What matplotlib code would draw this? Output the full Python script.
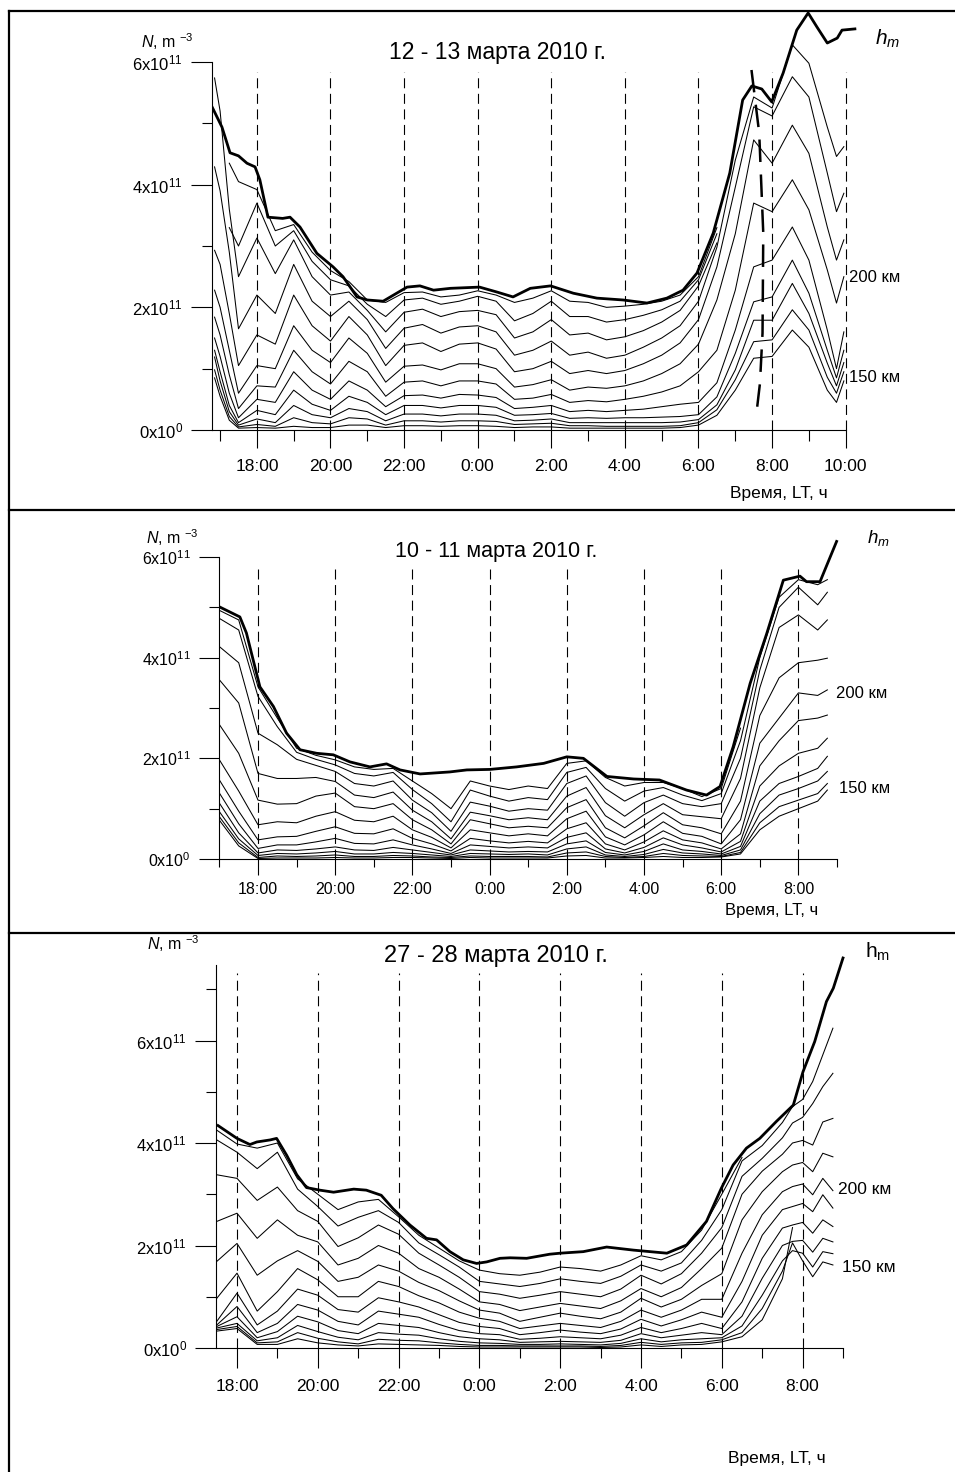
import numpy as np
import matplotlib
matplotlib.use('Agg')
import matplotlib.pyplot as plt
from matplotlib.lines import Line2D

plt.rcParams['font.family'] = ['Liberation Sans', 'DejaVu Sans']
plt.rcParams['mathtext.fontset'] = 'custom'
plt.rcParams['mathtext.rm'] = 'Liberation Sans'
plt.rcParams['mathtext.it'] = 'Liberation Sans:italic'
plt.rcParams['mathtext.bf'] = 'Liberation Sans:bold'

nan = np.nan

# N in units of 1e11 m^-3, time in hours LT (hours after midnight are +24)
# each row: one time step, columns = thin curves from top (high) to bottom

# ---- 12 - 13 march 2010
t1 = [16.85, 17.0, 17.25, 17.5, 18.0, 18.5, 19.0, 19.5, 20.0, 20.5, 21.0, 21.5,
      22.0, 22.5, 23.0, 23.5, 24.0, 24.5, 25.0, 25.5, 26.0, 26.5, 27.0, 27.5,
      28.0, 28.5, 29.0, 29.5, 30.0, 30.5, 31.0, 31.5, 32.0, 32.55, 33.0, 33.5,
      33.75, 33.95]
n1 = [
    [nan, nan, 5.74, 4.29, 2.93, 2.28, 1.84, 1.5, 1.3, 1.19, 0.98, 0.85],
    [nan, nan, 5.2, 3.9, 2.7, 2.0, 1.55, 1.2, 0.95, 0.8, 0.65, 0.55],
    [4.35, 3.3, 3.6, 2.9, 1.9, 1.3, 0.9, 0.6, 0.4, 0.3, 0.22, 0.16],
    [4.05, 3.0, 2.5, 1.65, 1.05, 0.6, 0.35, 0.2, 0.12, 0.08, 0.05, 0.03],
    [3.92, 3.7, 3.13, 2.2, 1.55, 1.05, 0.72, 0.5, 0.32, 0.18, 0.09, 0.04],
    [3.25, 3.0, 2.55, 1.9, 1.4, 1.0, 0.7, 0.45, 0.25, 0.12, 0.06, 0.03],
    [3.35, 3.25, 3.1, 2.7, 2.2, 1.7, 1.3, 0.95, 0.65, 0.4, 0.2, 0.06],
    [2.9, 2.75, 2.5, 2.1, 1.7, 1.3, 0.95, 0.65, 0.42, 0.25, 0.12, 0.04],
    [2.6, 2.45, 2.2, 1.85, 1.45, 1.1, 0.75, 0.5, 0.32, 0.2, 0.1, 0.04],
    [2.42, 2.35, 2.25, 2.1, 1.85, 1.5, 1.12, 0.8, 0.55, 0.35, 0.2, 0.08],
    [2.12, 2.05, 1.95, 1.8, 1.55, 1.25, 0.95, 0.65, 0.45, 0.3, 0.18, 0.08],
    [2.08, 1.85, 1.6, 1.33, 1.05, 0.78, 0.55, 0.38, 0.25, 0.15, 0.08, 0.04],
    [2.24, 2.12, 1.92, 1.66, 1.38, 1.04, 0.78, 0.56, 0.4, 0.26, 0.15, 0.07],
    [2.25, 2.15, 1.97, 1.72, 1.42, 1.06, 0.8, 0.57, 0.4, 0.26, 0.15, 0.07],
    [2.17, 2.05, 1.85, 1.58, 1.28, 0.98, 0.72, 0.52, 0.36, 0.23, 0.13, 0.06],
    [2.2, 2.1, 1.93, 1.68, 1.4, 1.08, 0.8, 0.58, 0.4, 0.26, 0.15, 0.07],
    [2.27, 2.18, 1.95, 1.7, 1.42, 1.08, 0.8, 0.57, 0.4, 0.26, 0.15, 0.07],
    [2.2, 2.1, 1.88, 1.6, 1.32, 1.0, 0.75, 0.53, 0.37, 0.24, 0.14, 0.06],
    [2.08, 1.78, 1.5, 1.22, 0.95, 0.7, 0.5, 0.35, 0.24, 0.15, 0.09, 0.04],
    [2.15, 1.9, 1.6, 1.3, 1.0, 0.74, 0.52, 0.37, 0.25, 0.16, 0.1, 0.05],
    [2.27, 2.1, 1.8, 1.45, 1.12, 0.82, 0.58, 0.4, 0.27, 0.18, 0.11, 0.05],
    [2.1, 1.85, 1.55, 1.22, 0.92, 0.65, 0.45, 0.3, 0.19, 0.12, 0.07, 0.03],
    [2.08, 1.85, 1.58, 1.27, 0.97, 0.7, 0.48, 0.32, 0.2, 0.12, 0.07, 0.03],
    [2.0, 1.76, 1.47, 1.17, 0.92, 0.68, 0.46, 0.3, 0.19, 0.12, 0.06, 0.03],
    [2.02, 1.8, 1.52, 1.22, 0.97, 0.72, 0.5, 0.32, 0.2, 0.12, 0.06, 0.03],
    [2.05, 1.87, 1.62, 1.35, 1.08, 0.8, 0.55, 0.34, 0.2, 0.12, 0.06, 0.03],
    [2.1, 1.96, 1.76, 1.5, 1.22, 0.92, 0.62, 0.38, 0.21, 0.12, 0.06, 0.03],
    [2.2, 2.1, 1.95, 1.7, 1.42, 1.08, 0.72, 0.42, 0.22, 0.13, 0.07, 0.04],
    [2.5, 2.45, 2.35, 2.1, 1.8, 1.4, 0.95, 0.45, 0.25, 0.17, 0.12, 0.08],
    [3.3, 3.2, 3.05, 2.98, 2.66, 2.12, 1.3, 0.77, 0.54, 0.41, 0.33, 0.24],
    [nan, nan, nan, 4.4, 3.96, 3.2, 2.28, 1.63, 1.25, 0.98, 0.82, 0.65],
    [nan, nan, nan, 5.43, 5.27, 4.73, 3.7, 2.66, 2.09, 1.79, 1.44, 1.17],
    [nan, nan, nan, 5.25, 5.12, 4.35, 3.56, 2.77, 2.17, 1.79, 1.47, 1.2],
    [nan, nan, nan, 6.28, 5.76, 4.97, 4.08, 3.31, 2.77, 2.39, 1.96, 1.63],
    [nan, nan, nan, 5.98, 5.43, 4.51, 3.59, 2.77, 2.23, 1.9, 1.63, 1.35],
    [nan, nan, nan, 4.94, 4.19, 3.31, 2.61, 1.63, 1.3, 1.09, 0.86, 0.65],
    [nan, nan, nan, 4.46, 3.56, 2.77, 2.07, 1.0, 0.85, 0.72, 0.6, 0.45],
    [nan, nan, nan, 4.62, 3.86, 3.1, 2.5, 1.6, 1.3, 1.1, 0.95, 0.8],
]
hm1_t = [16.78, 17.05, 17.27, 17.5, 17.73, 17.95, 18.08, 18.3, 18.7, 18.9, 19.17,
         19.63, 20.07, 20.34, 20.72, 21.0, 21.43, 22.08, 22.43, 22.8, 23.26, 24.05,
         24.52, 24.96, 25.43, 25.98, 26.6, 27.24, 27.95, 28.6, 29.14, 29.58, 29.96,
         30.4, 30.85, 31.2, 31.45, 31.72, 31.99, 32.3, 32.67, 32.98, 33.22, 33.5,
         33.77, 33.9, 34.25]
hm1_n = [5.27, 4.94, 4.52, 4.47, 4.35, 4.29, 4.08, 3.47, 3.45, 3.47, 3.31,
         2.88, 2.66, 2.5, 2.17, 2.12, 2.1, 2.33, 2.35, 2.28, 2.31, 2.33,
         2.25, 2.17, 2.31, 2.35, 2.23, 2.15, 2.12, 2.07, 2.15, 2.28, 2.56,
         3.21, 4.19, 5.38, 5.61, 5.56, 5.35, 5.82, 6.52, 6.8, 6.57, 6.31,
         6.39, 6.52, 6.54]
# long-dashed line crossing the morning peak (12 - 13 march)
mark1_t = [31.44, 31.65, 31.76, 31.74, 31.67, 31.58]
mark1_n = [5.87, 4.84, 3.21, 1.58, 0.76, 0.30]

# ---- 10 - 11 march 2010
t2 = [17.0, 17.5, 18.0, 18.5, 19.0, 19.5, 20.0, 20.5, 21.0, 21.5, 22.0, 22.5,
      23.0, 23.5, 24.0, 24.5, 25.0, 25.5, 26.0, 26.5, 27.0, 27.5, 28.0, 28.5,
      29.0, 29.5, 30.0, 30.5, 31.0, 31.5, 32.0, 32.5, 32.75]
n2 = [
    [4.94, 4.78, 4.22, 3.56, 2.67, 1.97, 1.57, 1.31, 1.11, 0.94, 0.84, 0.77],
    [4.75, 4.55, 3.9, 3.1, 2.1, 1.35, 0.95, 0.7, 0.52, 0.4, 0.32, 0.26],
    [3.42, 3.23, 2.5, 1.7, 1.17, 0.68, 0.38, 0.21, 0.12, 0.07, 0.03, 0.01],
    [2.8, 2.63, 2.27, 1.6, 1.09, 0.74, 0.44, 0.28, 0.18, 0.11, 0.06, 0.02],
    [2.2, 2.12, 1.98, 1.6, 1.1, 0.72, 0.45, 0.28, 0.17, 0.1, 0.05, 0.02],
    [2.06, 1.98, 1.86, 1.62, 1.25, 0.85, 0.55, 0.34, 0.2, 0.12, 0.06, 0.02],
    [1.97, 1.87, 1.74, 1.54, 1.31, 0.94, 0.64, 0.41, 0.24, 0.15, 0.08, 0.03],
    [1.83, 1.7, 1.5, 1.27, 1.04, 0.77, 0.51, 0.31, 0.18, 0.1, 0.05, 0.02],
    [1.78, 1.65, 1.45, 1.22, 1.0, 0.74, 0.5, 0.3, 0.17, 0.1, 0.05, 0.02],
    [1.8, 1.72, 1.55, 1.33, 1.1, 0.85, 0.6, 0.38, 0.23, 0.13, 0.07, 0.03],
    [1.55, 1.38, 1.17, 0.97, 0.78, 0.58, 0.41, 0.28, 0.18, 0.11, 0.06, 0.03],
    [1.3, 1.1, 0.92, 0.74, 0.58, 0.43, 0.3, 0.2, 0.13, 0.08, 0.04, 0.02],
    [1.0, 0.74, 0.55, 0.4, 0.3, 0.22, 0.16, 0.11, 0.08, 0.05, 0.03, 0.01],
    [1.55, 1.37, 1.13, 0.93, 0.78, 0.58, 0.41, 0.28, 0.18, 0.11, 0.06, 0.03],
    [1.45, 1.25, 1.05, 0.86, 0.7, 0.52, 0.36, 0.25, 0.16, 0.1, 0.05, 0.02],
    [1.38, 1.15, 0.95, 0.78, 0.62, 0.46, 0.32, 0.22, 0.14, 0.09, 0.05, 0.02],
    [1.45, 1.22, 1.0, 0.82, 0.65, 0.5, 0.35, 0.24, 0.15, 0.1, 0.05, 0.02],
    [1.4, 1.18, 0.97, 0.78, 0.62, 0.46, 0.32, 0.22, 0.14, 0.08, 0.04, 0.02],
    [1.9, 1.72, 1.5, 1.25, 1.02, 0.8, 0.6, 0.43, 0.3, 0.2, 0.12, 0.06],
    [1.95, 1.82, 1.65, 1.42, 1.18, 0.95, 0.72, 0.52, 0.36, 0.24, 0.14, 0.07],
    [1.62, 1.4, 1.12, 0.86, 0.62, 0.44, 0.3, 0.2, 0.13, 0.08, 0.05, 0.02],
    [1.45, 1.15, 0.85, 0.62, 0.42, 0.28, 0.18, 0.12, 0.08, 0.05, 0.03, 0.02],
    [1.52, 1.35, 1.12, 0.88, 0.66, 0.48, 0.34, 0.23, 0.15, 0.09, 0.05, 0.03],
    [1.52, 1.42, 1.27, 1.1, 0.92, 0.74, 0.56, 0.42, 0.3, 0.19, 0.11, 0.05],
    [1.4, 1.27, 1.1, 0.88, 0.68, 0.51, 0.38, 0.28, 0.18, 0.12, 0.07, 0.03],
    [1.24, 1.16, 1.04, 0.84, 0.62, 0.45, 0.32, 0.22, 0.15, 0.1, 0.06, 0.03],
    [1.4, 1.3, 1.1, 0.8, 0.5, 0.3, 0.2, 0.14, 0.1, 0.07, 0.05, 0.04],
    [2.6, 2.35, 2.0, 1.6, 1.15, 0.78, 0.5, 0.35, 0.25, 0.18, 0.13, 0.1],
    [nan, 4.0, 3.75, 3.4, 2.85, 2.3, 1.85, 1.45, 1.15, 0.9, 0.72, 0.58],
    [nan, 5.2, 5.0, 4.6, 3.6, 2.8, 2.35, 1.85, 1.5, 1.27, 1.04, 0.85],
    [nan, 5.55, 5.4, 4.85, 3.9, 3.3, 2.75, 2.1, 1.64, 1.4, 1.17, 1.0],
    [nan, 5.45, 5.05, 4.55, 3.95, 3.25, 2.8, 2.2, 1.8, 1.55, 1.3, 1.15],
    [nan, 5.55, 5.3, 4.75, 3.99, 3.36, 2.86, 2.4, 2.04, 1.74, 1.5, 1.37],
]
hm2_t = [17.0, 17.53, 17.7, 18.05, 18.4, 18.74, 19.09, 19.52, 19.95, 20.38, 20.9,
         21.33, 21.68, 22.2, 22.97, 23.41, 24.01, 24.7, 25.4, 26.0, 26.43, 27.04,
         27.73, 28.4, 29.1, 29.62, 29.97, 30.31, 30.75, 31.18, 31.61, 32.04, 32.21,
         32.56, 32.99]
hm2_n = [5.01, 4.81, 4.49, 3.42, 3.03, 2.5, 2.17, 2.1, 2.07, 1.93, 1.83,
         1.89, 1.77, 1.69, 1.73, 1.77, 1.78, 1.83, 1.9, 2.03, 2.0, 1.64,
         1.59, 1.57, 1.37, 1.27, 1.44, 2.23, 3.49, 4.48, 5.54, 5.62, 5.51,
         5.51, 6.31]

# ---- 27 - 28 march 2010
t3 = [17.5, 18.0, 18.5, 19.0, 19.5, 20.0, 20.5, 21.0, 21.5, 22.0, 22.5, 23.0,
      23.5, 24.0, 24.5, 25.0, 25.5, 26.0, 26.5, 27.0, 27.5, 28.0, 28.5, 29.0,
      29.5, 30.0, 30.5, 31.0, 31.5, 31.75, 32.0, 32.25, 32.5, 32.75]
n3 = [
    [4.25, 4.06, 3.38, 2.47, 1.69, 0.97, 0.52, 0.45, 0.42, 0.39, 0.36, 0.33],
    [3.98, 3.82, 3.31, 2.63, 2.04, 1.46, 1.07, 0.81, 0.61, 0.48, 0.42, 0.38],
    [3.9, 3.5, 2.88, 2.14, 1.42, 0.72, 0.45, 0.3, 0.2, 0.14, 0.1, 0.07],
    [4.0, 3.82, 3.14, 2.5, 1.7, 1.1, 0.72, 0.48, 0.32, 0.2, 0.12, 0.07],
    [3.3, 3.1, 2.68, 2.2, 1.9, 1.55, 1.15, 0.85, 0.62, 0.44, 0.3, 0.18],
    [3.0, 2.76, 2.47, 2.07, 1.69, 1.33, 1.03, 0.74, 0.51, 0.32, 0.19, 0.1],
    [2.7, 2.38, 1.98, 1.62, 1.3, 1.0, 0.75, 0.52, 0.34, 0.21, 0.12, 0.06],
    [2.85, 2.55, 2.15, 1.75, 1.38, 1.0, 0.7, 0.45, 0.28, 0.16, 0.08, 0.04],
    [2.9, 2.68, 2.4, 2.0, 1.62, 1.3, 0.98, 0.72, 0.48, 0.3, 0.17, 0.08],
    [2.56, 2.45, 2.22, 1.85, 1.5, 1.2, 0.9, 0.66, 0.44, 0.27, 0.15, 0.07],
    [2.2, 2.05, 1.85, 1.55, 1.28, 1.02, 0.8, 0.6, 0.4, 0.25, 0.14, 0.06],
    [1.95, 1.82, 1.62, 1.38, 1.12, 0.88, 0.65, 0.46, 0.3, 0.18, 0.1, 0.05],
    [1.7, 1.58, 1.38, 1.15, 0.92, 0.7, 0.5, 0.34, 0.22, 0.13, 0.07, 0.03],
    [1.52, 1.3, 1.1, 0.9, 0.74, 0.58, 0.42, 0.28, 0.18, 0.1, 0.05, 0.02],
    [1.45, 1.25, 1.05, 0.85, 0.68, 0.52, 0.38, 0.26, 0.16, 0.09, 0.05, 0.02],
    [1.42, 1.2, 0.97, 0.73, 0.52, 0.38, 0.26, 0.17, 0.11, 0.07, 0.04, 0.02],
    [1.48, 1.26, 1.03, 0.8, 0.6, 0.43, 0.3, 0.19, 0.12, 0.07, 0.04, 0.02],
    [1.58, 1.35, 1.1, 0.87, 0.68, 0.48, 0.35, 0.22, 0.13, 0.08, 0.04, 0.02],
    [1.55, 1.3, 1.05, 0.82, 0.62, 0.44, 0.31, 0.2, 0.12, 0.07, 0.04, 0.02],
    [1.5, 1.26, 1.0, 0.77, 0.57, 0.4, 0.28, 0.18, 0.11, 0.06, 0.03, 0.01],
    [1.62, 1.4, 1.15, 0.92, 0.7, 0.52, 0.37, 0.25, 0.15, 0.09, 0.05, 0.02],
    [1.8, 1.62, 1.42, 1.16, 0.97, 0.74, 0.56, 0.4, 0.28, 0.18, 0.11, 0.06],
    [1.72, 1.5, 1.25, 1.0, 0.8, 0.6, 0.43, 0.3, 0.2, 0.12, 0.07, 0.03],
    [1.88, 1.66, 1.45, 1.18, 0.95, 0.74, 0.55, 0.38, 0.25, 0.16, 0.1, 0.06],
    [2.3, 2.1, 1.85, 1.55, 1.22, 0.95, 0.7, 0.48, 0.3, 0.18, 0.11, 0.07],
    [3.0, 2.7, 2.35, 1.95, 1.45, 0.95, 0.6, 0.38, 0.26, 0.2, 0.16, 0.12],
    [3.72, 3.65, 3.35, 3.0, 2.5, 1.85, 1.3, 0.9, 0.62, 0.43, 0.3, 0.22],
    [nan, 3.95, 3.7, 3.45, 3.05, 2.6, 2.2, 1.75, 1.36, 1.03, 0.77, 0.55],
    [nan, 4.4, 4.1, 3.78, 3.44, 3.05, 2.7, 2.34, 2.0, 1.7, 1.5, 1.35],
    [nan, 4.71, 4.39, 4.0, 3.57, 3.15, 2.76, 2.4, 2.08, 1.9, 2.05, 2.35],
    [nan, 4.85, 4.5, 4.05, 3.62, 3.2, 2.82, 2.45, 2.1, 1.85, 1.7, nan],
    [nan, 5.2, 4.77, 3.96, 3.44, 2.99, 2.66, 2.24, 1.87, 1.58, 1.39, nan],
    [nan, 5.72, 5.1, 4.41, 3.8, 3.31, 2.99, 2.5, 2.14, 1.88, 1.68, nan],
    [nan, 6.24, 5.36, 4.48, 3.73, 3.07, 2.73, 2.37, 2.07, 1.84, 1.62, nan],
]
hm3_t = [17.53, 18.0, 18.32, 18.49, 18.82, 18.98, 19.23, 19.48, 19.72, 20.05, 20.39,
         20.89, 21.2, 21.57, 21.86, 22.28, 22.69, 22.94, 23.27, 23.6, 23.93, 24.18,
         24.51, 24.76, 25.17, 25.74, 26.0, 26.57, 27.15, 27.81, 28.64, 29.13, 29.62,
         29.99, 30.28, 30.61, 30.94, 31.35, 31.77, 32.01, 32.3, 32.59, 32.76, 33.0]
hm3_n = [4.34, 4.09, 3.97, 4.02, 4.06, 4.09, 3.76, 3.38, 3.13, 3.08, 3.04,
         3.1, 3.08, 2.98, 2.72, 2.4, 2.14, 2.11, 1.88, 1.72, 1.65, 1.68,
         1.75, 1.76, 1.75, 1.83, 1.85, 1.88, 1.97, 1.91, 1.85, 2.01, 2.47,
         3.12, 3.57, 3.9, 4.09, 4.42, 4.74, 5.39, 5.98, 6.76, 7.02, 7.61]

titles = ['12 - 13 марта 2010 г.', '10 - 11 марта 2010 г.', '27 - 28 марта 2010 г.']
ytick_labels = ['0x10$^{0}$', '2x10$^{11}$', '4x10$^{11}$', '6x10$^{11}$']

W, H = 955, 1472
fig = plt.figure(figsize=(W / 100, H / 100), dpi=100)


def fx(px):
    return px / W


def fy(py):
    return 1 - py / H


def ftext(px, py, s, **kw):
    fig.text(fx(px), fy(py), s, **kw)


def hour_label(h):
    return '%d:00' % (int(round(h)) % 24)


def draw_panel(t, rows, hm_t, hm_n, lay):
    ax = fig.add_axes([fx(lay['x0']), fy(lay['y0']),
                       (lay['t1'] - lay['t0']) * lay['pph'] / W,
                       lay['vmax'] * lay['ppu'] / H])
    ax.set_xlim(lay['t0'], lay['t1'])
    ax.set_ylim(0, lay['vmax'])
    ax.patch.set_visible(False)
    ax.spines['top'].set_visible(False)
    ax.spines['right'].set_visible(False)
    ax.spines['left'].set_bounds(0, lay['spine_top'])
    ax.spines['bottom'].set_bounds(lay['t0'], lay['t_end'])
    for s in ('left', 'bottom'):
        ax.spines[s].set_linewidth(0.8)

    major = np.arange(18, lay['t_end'] + 0.1, 2)
    ax.vlines(major, 0, lay['dash_top'], colors='k', lw=0.8,
              linestyles=[(0, (9, 5))])

    vals = np.array(rows, dtype=float)
    for col in vals.T:
        ax.plot(t, col, color='k', lw=0.75, solid_joinstyle='round')
    ax.plot(hm_t, hm_n, color='k', lw=2.0, solid_joinstyle='round')

    ax.set_xticks(major)
    ax.set_xticklabels([hour_label(h) for h in major])
    ax.set_xticks(np.arange(lay['minor0'], lay['t_end'] + 0.1, 2), minor=True)
    ax.set_yticks([0, 2, 4, 6])
    ax.set_yticklabels(ytick_labels)
    ax.set_yticks(lay['yminor'], minor=True)
    ax.tick_params(axis='x', which='major', direction='out', length=lay['xmaj'],
                   width=0.8, pad=lay['xpad'], labelsize=lay['xfs'])
    ax.tick_params(axis='x', which='minor', direction='out', length=lay['xmin'],
                   width=0.8)
    ax.tick_params(axis='y', which='major', direction='out', length=lay['ymaj'],
                   width=0.8, pad=6, labelsize=lay['yfs'])
    ax.tick_params(axis='y', which='minor', direction='out', length=lay['ymin'],
                   width=0.8)
    return ax


lay1 = dict(x0=212, pph=36.8, t0=16.78, t1=34.5, y0=430, ppu=61.33, vmax=6.9,
            spine_top=6, t_end=34, minor0=17, dash_top=5.84, yminor=[1, 3, 5],
            xmaj=13, xmin=8, ymaj=15, ymin=7.5, xpad=8, xfs=12.5, yfs=12)
lay2 = dict(x0=219.4, pph=38.6, t0=17.0, t1=33.2, y0=859, ppu=50.33, vmax=6.7,
            spine_top=6, t_end=33, minor0=17, dash_top=5.84, yminor=[1, 3, 5],
            xmaj=11.5, xmin=5.5, ymaj=14.4, ymin=7.2, xpad=5, xfs=11.5, yfs=11.5)
lay3 = dict(x0=216, pph=40.4, t0=17.48, t1=33.3, y0=1348, ppu=51.25, vmax=7.75,
            spine_top=7.47, t_end=33, minor0=19, dash_top=7.32, yminor=[1, 3, 5, 7],
            xmaj=14.4, xmin=7.2, ymaj=15, ymin=7.2, xpad=8, xfs=12.5, yfs=12)

ax1 = draw_panel(t1, n1, hm1_t, hm1_n, lay1)
ax1.plot(mark1_t, mark1_n, color='k', lw=1.8, dashes=(9, 5))
ax2 = draw_panel(t2, n2, hm2_t, hm2_n, lay2)
ax3 = draw_panel(t3, n3, hm3_t, hm3_n, lay3)

# titles, axis captions, labels (pixel positions)
ftext(497, 53, titles[0], ha='center', va='center', fontsize=16.5)
ftext(496, 551, titles[1], ha='center', va='center', fontsize=15.5)
ftext(496, 956, titles[2], ha='center', va='center', fontsize=17)

ftext(141, 42, r'$N$, m $^{-3}$', ha='left', va='center', fontsize=11.5)
ftext(146, 538, r'$N$, m $^{-3}$', ha='left', va='center', fontsize=11.5)
ftext(147, 944, r'$N$, m $^{-3}$', ha='left', va='center', fontsize=11.5)

ftext(875, 39, r'$h_m$', ha='left', va='center', fontsize=15)
ftext(867, 538, r'$h_m$', ha='left', va='center', fontsize=13.5)
ftext(865, 952, r'h$_\mathrm{m}$', ha='left', va='center', fontsize=15)

for px, py, s, fs in [(849, 277, '200 км', 12), (849, 377, '150 км', 12),
                      (836, 693, '200 км', 12), (839, 789, '150 км', 12),
                      (838, 1190, '200 км', 12.5), (842, 1267, '150 км', 12.5)]:
    ftext(px, py, s, ha='left', va='center', fontsize=fs)

ftext(730, 493, 'Время, LT, ч', ha='left', va='center', fontsize=12.5)
ftext(725, 910, 'Время, LT, ч', ha='left', va='center', fontsize=12)
ftext(728, 1458, 'Время, LT, ч', ha='left', va='center', fontsize=12.5)

# frame around the three panels
for xs, ys in [([9, 9], [11, H]), ([9, W], [11, 11]),
               ([9, W], [510, 510]), ([9, W], [933, 933])]:
    fig.add_artist(Line2D([fx(x) for x in xs], [fy(y) for y in ys],
                          transform=fig.transFigure, color='k', lw=1.6))

fig.savefig('out.png', dpi=100)
